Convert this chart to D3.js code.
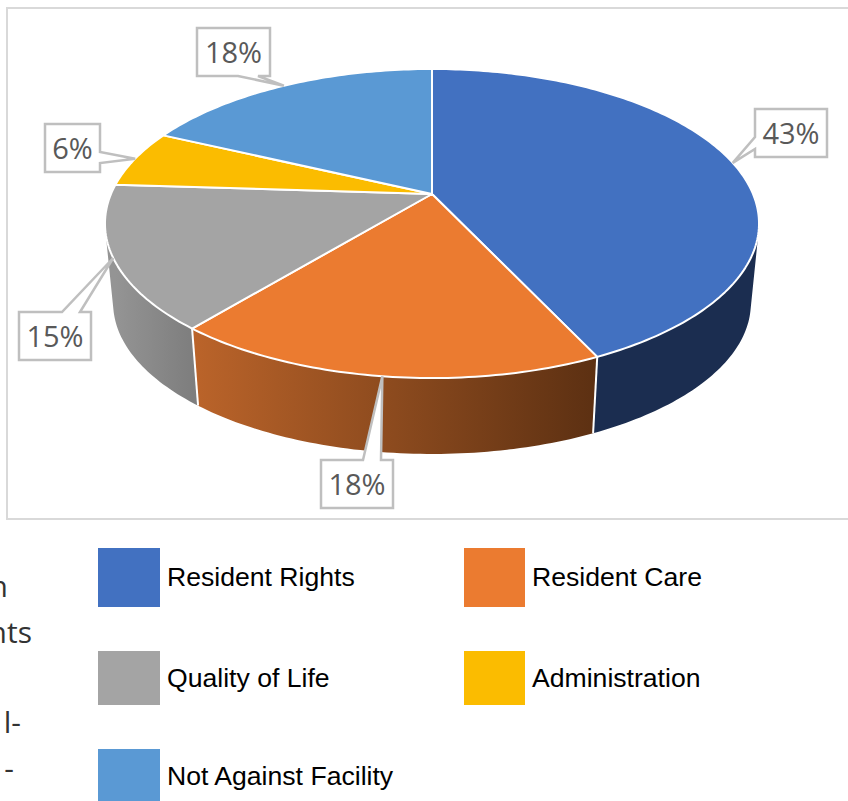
<!DOCTYPE html>
<html lang="en">

<head>
    <meta charset="UTF-8">
    <title>Complaints by Category</title>
    <script src="https://d3js.org/d3.v7.min.js"></script>
    <style>
        html, body {
            margin: 0;
            padding: 0;
            background: #fff;
            overflow: hidden;
        }

        svg {
            display: block;
        }

        .callout-text {
            font-family: "Open Sans", sans-serif;
            font-size: 29px;
            fill: #595959;
            text-anchor: middle;
        }

        .legend-text {
            font-family: "Liberation Sans", sans-serif;
            font-size: 26.6px;
            fill: #000;
        }

        .cut-text {
            font-family: "Open Sans", sans-serif;
            font-size: 30px;
            fill: #333;
            text-anchor: end;
        }
    </style>
</head>

<body>
    <script>
        // Chart values
        const categories = ["Resident Rights", "Resident Care", "Quality of Life", "Administration", "Not Against Facility"];
        const shares = [43, 18, 15, 6, 18];
        const colors = ["#4271c1", "#eb7b30", "#a4a4a4", "#fbbc00", "#5a99d4"];
        const wallShades = [
            ["#1b2d50", "#1b2d50"],
            ["#bb642a", "#5c3012"],
            ["#949494", "#7e7e7e"],
            ["#997300", "#997300"],
            ["#2e75b6", "#2e75b6"]
        ];

        // Text cut off by the crop at the left of the picture
        const cutLines = ["n", "nts", "l-", "-"];

        // Page layout
        const width = 848;
        const height = 801;

        // Pie seen in perspective: hub on screen, radii and depth factor
        const hub = { x: 432, y: 194 };
        const radiusX = 321;
        const radiusY = 148.9;
        const depth = 0.191;

        // Lower rim of the pie
        const floorHub = { x: 432, y: 274.5 };
        const floorScale = 0.975;

        const wallFrom = 60 * Math.PI / 180;
        const wallTo = 274 * Math.PI / 180;

        // Callout boxes, same order as categories
        const boxes = [
            { x: 755, y: 109, w: 72, h: 48, side: "left", a: 137, b: 149 },
            { x: 321, y: 460, w: 72, h: 48, side: "top", a: 363, b: 381 },
            { x: 19, y: 312, w: 72, h: 48, side: "top", a: 62, b: 80 },
            { x: 45, y: 124, w: 55, h: 48, side: "right", a: 152, b: 163 },
            { x: 197, y: 28, w: 73, h: 48, side: "bottom", a: 238, b: 258 }
        ];

        const legendRows = [
            { x: 98, y: 548, w: 62, h: 59, base: 586 },
            { x: 464, y: 548, w: 61, h: 59, base: 586 },
            { x: 98, y: 651, w: 62, h: 54, base: 687 },
            { x: 464, y: 651, w: 61, h: 54, base: 687 },
            { x: 98, y: 749, w: 62, h: 52, base: 785 }
        ];

        const cutPositions = [
            { x: 8, y: 597 },
            { x: 32, y: 643 },
            { x: 21, y: 733 },
            { x: 14, y: 779 }
        ];

        const svg = d3.select("body").append("svg")
            .attr("width", width)
            .attr("height", height);

        const defs = svg.append("defs");

        // Angle on the pie to a point on the screen
        const project = t => {
            const d = 1 + depth * Math.cos(t);
            return [hub.x + radiusX * Math.sin(t) / d, hub.y - radiusY * Math.cos(t) / d];
        };

        const toFloor = p => [
            floorHub.x + floorScale * (p[0] - hub.x),
            floorHub.y + floorScale * (p[1] - hub.y)
        ];

        const angleSteps = (a, b) => {
            const n = Math.max(2, Math.ceil((b - a) / (Math.PI / 180)));
            return d3.range(n + 1).map(i => a + (b - a) * i / n);
        };

        const line = d3.line();

        const pie = d3.pie().sort(null);
        const slices = pie(shares);

        // Chart frame
        svg.append("path")
            .attr("d", `M${width},8H7V519H${width}`)
            .attr("fill", "none")
            .attr("stroke", "#d9d9d9")
            .attr("stroke-width", 2);

        // Side walls: each small step is a hull, joined in one path so there are no seams
        slices.forEach((s, i) => {
            const from = Math.max(s.startAngle, wallFrom);
            const to = Math.min(s.endAngle, wallTo);
            if (to <= from) return;

            const gradient = defs.append("linearGradient")
                .attr("id", `wall-${i}`)
                .attr("gradientUnits", "userSpaceOnUse")
                .attr("x1", d3.min([project(from)[0], project(to)[0]]))
                .attr("x2", d3.max([project(from)[0], project(to)[0]]))
                .attr("y1", 0)
                .attr("y2", 0);
            gradient.append("stop").attr("offset", 0).attr("stop-color", wallShades[i][0]);
            gradient.append("stop").attr("offset", 1).attr("stop-color", wallShades[i][1]);

            const steps = angleSteps(from, to);
            const pieces = d3.pairs(steps).map(([a, b]) => {
                const top = [project(a), project(b)];
                return line(d3.polygonHull([...top, ...top.map(toFloor)])) + "Z";
            });

            svg.append("path")
                .attr("d", pieces.join(""))
                .attr("fill", `url(#wall-${i})`);
        });

        // White seams on the walls
        [slices[0].endAngle, slices[1].endAngle].forEach(t => {
            svg.append("path")
                .attr("d", line([project(t), toFloor(project(t))]))
                .attr("stroke", "#fff")
                .attr("stroke-width", 2);
        });

        // Top of the pie
        svg.selectAll(".slice")
            .data(slices)
            .enter()
            .append("path")
            .attr("class", "slice")
            .attr("d", s => line([[hub.x, hub.y], ...angleSteps(s.startAngle, s.endAngle).map(project)]) + "Z")
            .attr("fill", (s, i) => colors[i])
            .attr("stroke", "#fff")
            .attr("stroke-width", 2)
            .attr("stroke-linejoin", "round");

        // Callouts pointing at the middle of each slice
        const calloutPath = (b, tip) => {
            const r = b.x + b.w;
            const u = b.y + b.h;
            const tipText = `L${tip[0]},${tip[1]}`;
            if (b.side === "left") {
                return `M${b.x},${b.y}H${r}V${u}H${b.x}V${b.b}${tipText}L${b.x},${b.a}Z`;
            }
            if (b.side === "right") {
                return `M${b.x},${b.y}H${r}V${b.a}${tipText}L${r},${b.b}V${u}H${b.x}Z`;
            }
            if (b.side === "top") {
                return `M${b.x},${b.y}H${b.a}${tipText}L${b.b},${b.y}H${r}V${u}H${b.x}Z`;
            }
            return `M${b.x},${b.y}H${r}V${u}H${b.b}${tipText}L${b.a},${u}H${b.x}Z`;
        };

        const callouts = svg.selectAll(".callout")
            .data(slices)
            .enter()
            .append("g")
            .attr("class", "callout");

        callouts.append("path")
            .attr("d", (s, i) => calloutPath(boxes[i], project((s.startAngle + s.endAngle) / 2)))
            .attr("fill", "#fff")
            .attr("stroke", "#bfbfbf")
            .attr("stroke-width", 2.5)
            .attr("stroke-linejoin", "miter");

        callouts.append("text")
            .attr("class", "callout-text")
            .attr("x", (s, i) => boxes[i].x + boxes[i].w / 2)
            .attr("y", (s, i) => boxes[i].y + boxes[i].h / 2 + 11)
            .text(s => `${s.data}%`);

        // Legend
        const legend = svg.selectAll(".legend")
            .data(categories)
            .enter()
            .append("g")
            .attr("class", "legend");

        legend.append("rect")
            .attr("x", (d, i) => legendRows[i].x)
            .attr("y", (d, i) => legendRows[i].y)
            .attr("width", (d, i) => legendRows[i].w)
            .attr("height", (d, i) => legendRows[i].h)
            .attr("fill", (d, i) => colors[i]);

        legend.append("text")
            .attr("class", "legend-text")
            .attr("x", (d, i) => legendRows[i].x + legendRows[i].w + 7)
            .attr("y", (d, i) => legendRows[i].base)
            .text(d => d);

        // Pieces of the cropped text
        svg.selectAll(".cut-text")
            .data(cutLines)
            .enter()
            .append("text")
            .attr("class", "cut-text")
            .attr("x", (d, i) => cutPositions[i].x)
            .attr("y", (d, i) => cutPositions[i].y)
            .text(d => d);
    </script>
</body>

</html>
